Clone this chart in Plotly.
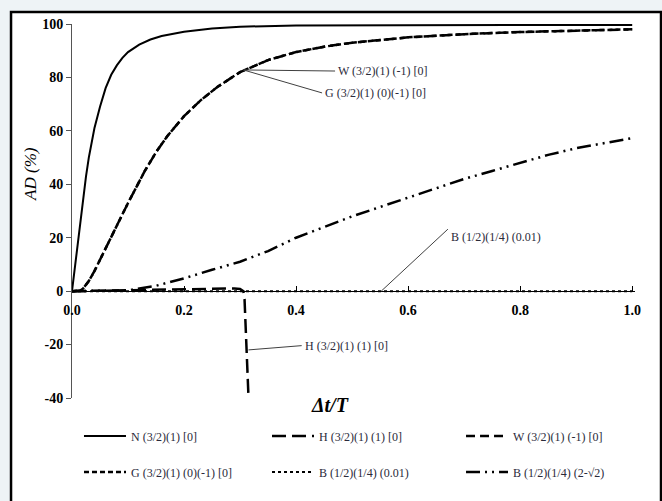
import plotly.graph_objects as go

# ---------------- data ----------------
t_N = [0, 0.005, 0.01, 0.015, 0.02, 0.025, 0.03, 0.04, 0.05, 0.06, 0.07, 0.08, 0.09, 0.1,
       0.12, 0.14, 0.16, 0.18, 0.2, 0.25, 0.3, 0.4, 0.5, 0.6, 0.8, 1.0]
ad_N = [0, 9, 18, 27, 35, 43, 50, 61, 69, 76, 81, 84.5, 87.3, 89.5,
        92.3, 94.2, 95.5, 96.4, 97.1, 98.3, 99, 99.4, 99.5, 99.6, 99.6, 99.6]

t_H = [0, 0.05, 0.1, 0.15, 0.2, 0.25, 0.29, 0.3, 0.306, 0.308, 0.315, 0.318]
ad_H = [0, 0.2, 0.4, 0.5, 0.6, 0.8, 1.0, 0.8, 0, -3, -40, -55]

t_WG = [0, 0.01, 0.015, 0.02, 0.03, 0.04, 0.05, 0.06, 0.07, 0.08, 0.09, 0.1, 0.11, 0.12,
        0.13, 0.15, 0.17, 0.2, 0.23, 0.26, 0.3, 0.35, 0.4, 0.45, 0.5, 0.6, 0.7, 0.8, 0.9, 1.0]
ad_WG = [0, 0, 0.2, 1, 3.8, 7.5, 11.8, 16.3, 20.5, 24.8, 29, 33, 37, 41,
         45, 52, 58, 65.5, 71.5, 76.5, 82, 86.5, 89.5, 91.5, 93, 95, 96.2, 97, 97.6, 98]

t_B1 = [0, 0.25, 0.5, 0.75, 1.0]
ad_B1 = [0, 0, 0, 0, 0]

t_B2 = [0, 0.05, 0.1, 0.15, 0.2, 0.25, 0.3, 0.35, 0.4, 0.45, 0.5, 0.55, 0.6, 0.65,
        0.7, 0.75, 0.8, 0.85, 0.9, 0.95, 1.0]
ad_B2 = [0, 0.1, 0.3, 2, 4.8, 8, 11, 15, 20, 24, 28, 31.5, 35, 38.5,
         42, 45, 48, 51, 53.5, 55.5, 57.3]

names = ["N (3/2)(1) [0]", "H (3/2)(1) (1) [0]", "W (3/2)(1) (-1) [0]",
         "G (3/2)(1) (0)(-1) [0]", "B (1/2)(1/4) (0.01)", "B (1/2)(1/4) (2-\u221a2)"]

x_ticks = [0.0, 0.2, 0.4, 0.6, 0.8, 1.0]
x_tick_text = ["0.0", "0.2", "0.4", "0.6", "0.8", "1.0"]
y_ticks = [-40, -20, 0, 20, 40, 60, 80, 100]
y_tick_text = ["-40", "-20", "0", "20", "40", "60", "80", "100"]

SERIF = "Liberation Serif"

# legend slot for each series (one small legend per entry: 3 columns x 2 rows)
legend_ids = ["legend", "legend2", "legend3", "legend4", "legend5", "legend6"]

fig = go.Figure()
series = [
    (t_N, ad_N, 0, dict(color="black", width=2, dash="solid")),
    (t_H, ad_H, 1, dict(color="black", width=2.5, dash="14px,6px")),
    (t_WG, ad_WG, 3, dict(color="black", width=2.5, dash="5px,3px")),
    (t_WG, ad_WG, 2, dict(color="black", width=2.5, dash="9px,5px")),
    (t_B1, ad_B1, 4, dict(color="black", width=2, dash="dot")),
    (t_B2, ad_B2, 5, dict(color="black", width=2.5, dash="14px,5px,2px,5px,2px,5px")),
]
for x, y, i, ln in series:
    fig.add_trace(go.Scatter(x=x, y=y, mode="lines", name=names[i], line=ln,
                             legend=legend_ids[i], showlegend=True))

ann_font = dict(family=SERIF, size=12, color="#2a2a3a")
annotations = [
    dict(x=0.471, y=82.4, text=names[2], xanchor="left", yanchor="middle"),
    dict(x=0.448, y=74.2, text=names[3], xanchor="left", yanchor="middle"),
    dict(x=0.673, y=20.2, text="B (1/2)(1/4) (0.01)", xanchor="left", yanchor="middle"),
    dict(x=0.413, y=-20.6, text=names[1], xanchor="left", yanchor="middle"),
]
for a in annotations:
    fig.add_annotation(xref="x", yref="y", showarrow=False, font=ann_font, **a)

leader = dict(color="#404040", width=1)
for (x0, y0, x1, y1) in [(0.306, 82.8, 0.4696, 82.4), (0.306, 82.8, 0.4464, 74.2),
                         (0.552, 0, 0.671, 23.2), (0.315, -22, 0.41, -20.4)]:
    fig.add_shape(type="line", xref="x", yref="y", x0=x0, y0=y0, x1=x1, y1=y1, line=leader)

# axis titles
fig.add_annotation(xref="paper", yref="paper", x=-0.074, y=0.60, text="AD (%)",
                   textangle=-90, showarrow=False, xanchor="center", yanchor="middle",
                   font=dict(family=SERIF, size=17, style="italic", color="black"))
fig.add_annotation(xref="paper", yref="paper", x=0.458, y=-0.02, text="\u0394t/T",
                   showarrow=False, xanchor="center", yanchor="middle",
                   font=dict(family=SERIF, size=20, style="italic", weight="bold", color="black"))

# frame
fig.add_shape(type="rect", xref="paper", yref="paper", x0=-0.1083, x1=1.0462,
              y0=-0.29, y1=1.032, line=dict(color="black", width=2.5),
              fillcolor="white", layer="below")

tickfont = dict(family=SERIF, size=14, weight="bold", color="black")
legfont = dict(family=SERIF, size=12, color="#2a2a3a")

col_x = [0.0124, 0.3464, 0.691]
row_y = [-0.1016, -0.198]
legend_layout = {}
for i, lid in enumerate(legend_ids):
    legend_layout[lid] = dict(orientation="h", x=col_x[i % 3], xanchor="left",
                              y=row_y[i // 3], yanchor="middle", itemwidth=42,
                              bgcolor="rgba(0,0,0,0)", font=legfont, visible=True)

fig.update_layout(
    width=662, height=501,
    margin=dict(l=72, r=27, t=24, b=103),
    showlegend=True,
    paper_bgcolor="#eef3f6", plot_bgcolor="rgba(0,0,0,0)",
    xaxis=dict(range=[0, 1.005], tickvals=x_ticks, ticktext=x_tick_text,
               showgrid=False, zeroline=False, showline=True, linecolor="black",
               linewidth=1, ticks="inside", ticklen=5, tickcolor="black",
               anchor="free", position=40 / 140, tickfont=tickfont, ticklabelstandoff=6),
    yaxis=dict(range=[-40, 100], tickvals=y_ticks, ticktext=y_tick_text,
               showgrid=False, zeroline=False,
               showline=True, linecolor="#555555", linewidth=1, ticks="outside",
               ticklen=5, tickcolor="#555555", tickfont=tickfont),
    **legend_layout,
)

fig.write_html("out.html")
